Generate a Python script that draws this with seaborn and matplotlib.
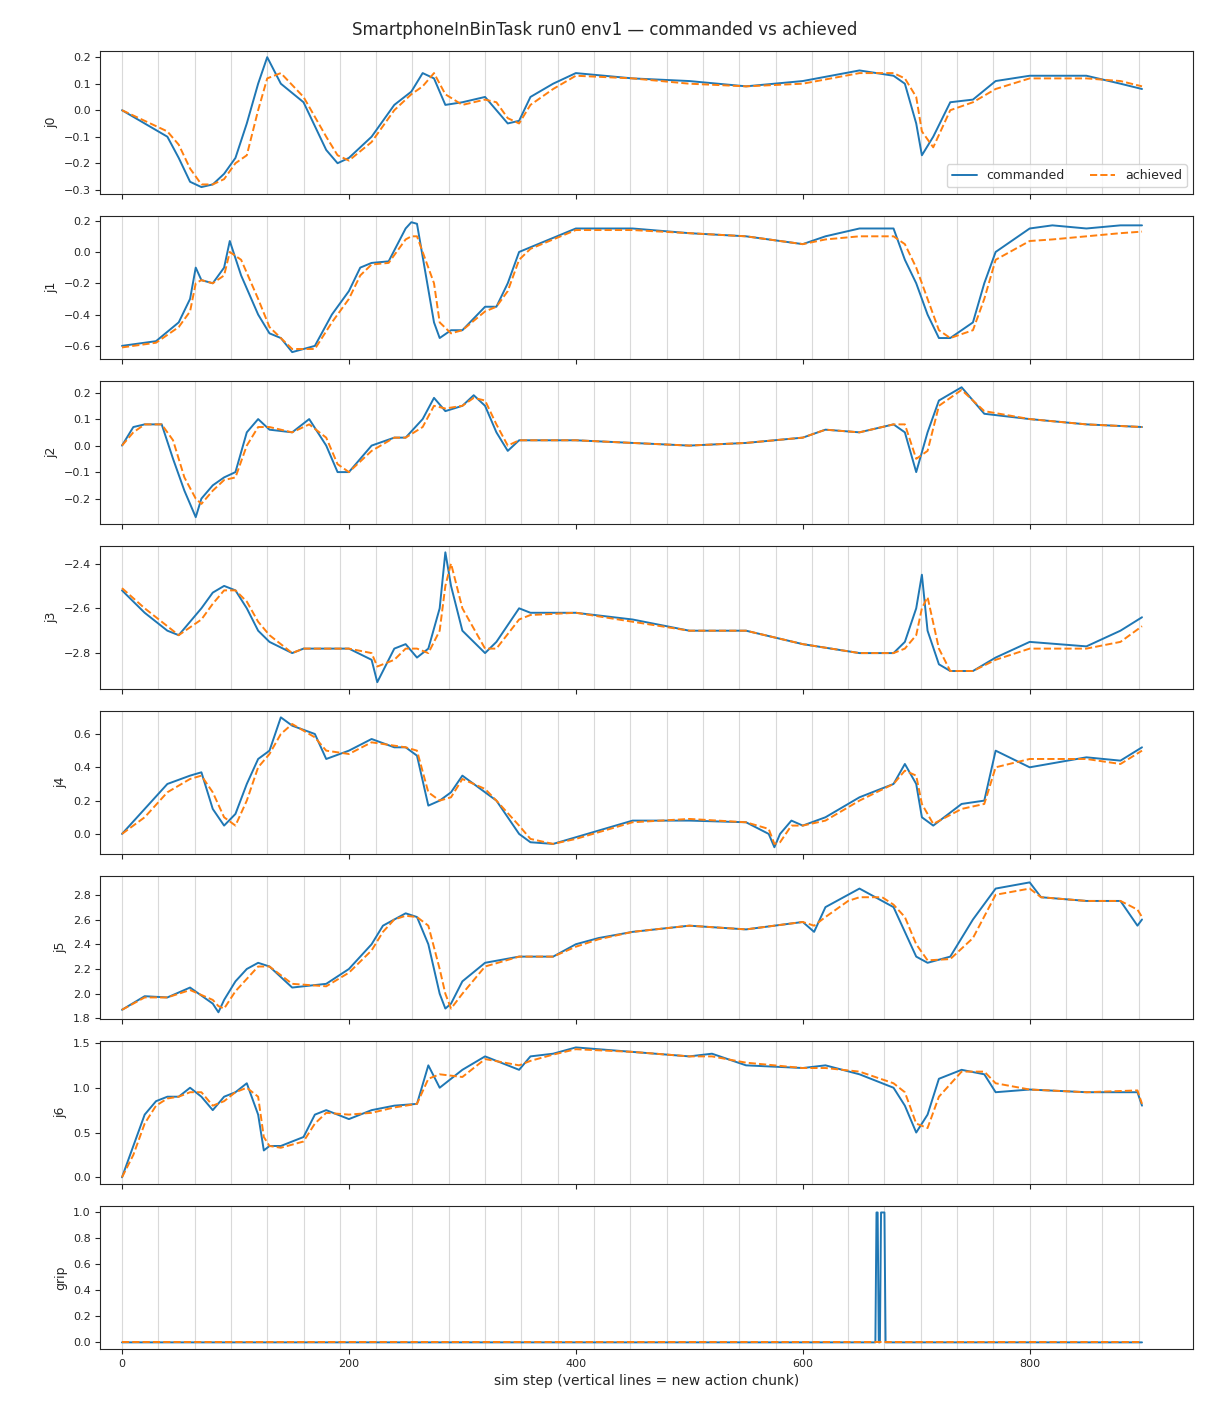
import numpy as np
import pandas as pd
import seaborn as sns
import matplotlib
matplotlib.use("Agg")
import matplotlib.pyplot as plt

# --- data (step, value) ---
j0_x = [0,20,40,50,60,70,80,90,100,110,120,128,140,160,180,190,200,220,240,255,265,275,285,300,320,330,340,350,360,380,400,450,500,550,600,650,680,690,700,705,715,730,750,770,800,850,880,899]
j0_cmd = [0,-0.05,-0.1,-0.18,-0.27,-0.29,-0.28,-0.24,-0.18,-0.05,0.1,0.2,0.1,0.03,-0.15,-0.2,-0.18,-0.1,0.02,0.07,0.14,0.12,0.02,0.03,0.05,0.0,-0.05,-0.04,0.05,0.1,0.14,0.12,0.11,0.09,0.11,0.15,0.13,0.1,-0.05,-0.17,-0.1,0.03,0.04,0.11,0.13,0.13,0.1,0.08]
j0_ach = [0,-0.04,-0.08,-0.13,-0.22,-0.28,-0.28,-0.26,-0.2,-0.17,0.0,0.12,0.14,0.05,-0.1,-0.17,-0.19,-0.12,0.0,0.06,0.09,0.14,0.06,0.02,0.04,0.03,-0.03,-0.05,0.02,0.08,0.13,0.12,0.1,0.09,0.1,0.14,0.14,0.12,0.05,-0.08,-0.14,0.0,0.03,0.08,0.12,0.12,0.11,0.09]

j1_x = [0,30,50,60,65,70,80,90,95,105,120,130,140,150,170,185,200,210,220,235,250,255,260,275,280,290,300,320,330,340,350,360,400,450,500,550,600,620,650,680,690,700,710,720,730,750,760,770,800,820,850,880,899]
j1_cmd = [-0.6,-0.57,-0.45,-0.3,-0.1,-0.18,-0.2,-0.1,0.07,-0.15,-0.4,-0.52,-0.55,-0.64,-0.6,-0.4,-0.25,-0.1,-0.07,-0.06,0.15,0.19,0.18,-0.45,-0.55,-0.5,-0.5,-0.35,-0.35,-0.2,0.0,0.03,0.15,0.15,0.12,0.1,0.05,0.1,0.15,0.15,-0.05,-0.2,-0.4,-0.55,-0.55,-0.45,-0.2,0.0,0.15,0.17,0.15,0.17,0.17]
j1_ach = [-0.61,-0.58,-0.48,-0.38,-0.2,-0.18,-0.2,-0.15,0.0,-0.05,-0.3,-0.48,-0.55,-0.62,-0.62,-0.45,-0.3,-0.15,-0.08,-0.07,0.08,0.1,0.1,-0.2,-0.45,-0.52,-0.5,-0.38,-0.35,-0.25,-0.05,0.02,0.14,0.14,0.12,0.1,0.05,0.08,0.1,0.1,0.05,-0.1,-0.3,-0.5,-0.55,-0.5,-0.3,-0.05,0.07,0.08,0.1,0.12,0.13]

j2_x = [0,10,20,35,45,55,65,70,80,90,100,110,120,130,150,165,180,190,200,220,240,250,265,275,285,300,310,320,330,340,350,400,450,500,550,600,620,650,680,690,700,710,720,740,760,800,850,899]
j2_cmd = [0,0.07,0.08,0.08,-0.05,-0.17,-0.27,-0.2,-0.15,-0.12,-0.1,0.05,0.1,0.06,0.05,0.1,0.0,-0.1,-0.1,0.0,0.03,0.03,0.1,0.18,0.13,0.15,0.19,0.15,0.05,-0.02,0.02,0.02,0.01,0.0,0.01,0.03,0.06,0.05,0.08,0.05,-0.1,0.05,0.17,0.22,0.12,0.1,0.08,0.07]
j2_ach = [0,0.05,0.08,0.08,0.02,-0.12,-0.2,-0.22,-0.17,-0.13,-0.12,0.0,0.07,0.07,0.05,0.08,0.03,-0.07,-0.1,-0.02,0.03,0.03,0.07,0.15,0.14,0.15,0.18,0.17,0.08,0.0,0.02,0.02,0.01,0.0,0.01,0.03,0.06,0.05,0.08,0.08,-0.05,-0.02,0.15,0.21,0.13,0.1,0.08,0.07]

j3_x = [0,20,40,50,70,80,90,100,110,120,130,150,160,180,200,220,225,240,250,260,270,280,285,290,300,320,330,350,360,400,450,500,550,600,650,680,690,700,705,710,720,730,750,770,800,850,880,899]
j3_cmd = [-2.52,-2.62,-2.7,-2.72,-2.6,-2.53,-2.5,-2.52,-2.6,-2.7,-2.75,-2.8,-2.78,-2.78,-2.78,-2.83,-2.93,-2.78,-2.76,-2.82,-2.78,-2.6,-2.35,-2.5,-2.7,-2.8,-2.75,-2.6,-2.62,-2.62,-2.65,-2.7,-2.7,-2.76,-2.8,-2.8,-2.75,-2.6,-2.45,-2.7,-2.85,-2.88,-2.88,-2.82,-2.75,-2.77,-2.7,-2.64]
j3_ach = [-2.51,-2.6,-2.68,-2.72,-2.65,-2.58,-2.52,-2.52,-2.57,-2.66,-2.72,-2.8,-2.78,-2.78,-2.78,-2.8,-2.86,-2.83,-2.78,-2.78,-2.8,-2.7,-2.5,-2.4,-2.6,-2.78,-2.78,-2.65,-2.63,-2.62,-2.66,-2.7,-2.7,-2.76,-2.8,-2.8,-2.78,-2.72,-2.6,-2.55,-2.78,-2.88,-2.88,-2.83,-2.78,-2.78,-2.75,-2.68]

j4_x = [0,20,40,60,70,80,90,100,110,120,130,140,150,170,180,200,220,240,250,260,270,280,290,300,320,330,350,360,380,400,450,500,550,570,575,580,590,600,620,650,680,690,700,705,715,740,760,770,800,850,880,899]
j4_cmd = [0,0.15,0.3,0.35,0.37,0.15,0.05,0.12,0.3,0.45,0.5,0.7,0.65,0.6,0.45,0.5,0.57,0.52,0.52,0.47,0.17,0.2,0.25,0.35,0.25,0.2,0.0,-0.05,-0.06,-0.02,0.08,0.08,0.07,0.0,-0.08,0.0,0.08,0.05,0.1,0.22,0.3,0.42,0.3,0.1,0.05,0.18,0.2,0.5,0.4,0.46,0.44,0.52]
j4_ach = [0,0.1,0.25,0.33,0.35,0.25,0.1,0.05,0.2,0.4,0.48,0.6,0.66,0.58,0.5,0.48,0.55,0.53,0.52,0.5,0.25,0.2,0.22,0.33,0.27,0.2,0.05,-0.03,-0.06,-0.03,0.07,0.09,0.07,0.03,-0.06,-0.05,0.05,0.05,0.08,0.2,0.3,0.38,0.35,0.18,0.06,0.15,0.18,0.4,0.45,0.45,0.42,0.5]

j5_x = [0,20,40,60,80,85,90,100,110,120,130,150,180,200,220,230,240,250,260,270,280,285,290,300,320,350,380,400,420,450,500,550,600,610,620,640,650,670,680,690,700,710,730,750,770,800,810,850,880,895,899]
j5_cmd = [1.87,1.98,1.97,2.05,1.92,1.85,1.95,2.1,2.2,2.25,2.22,2.05,2.08,2.2,2.4,2.55,2.6,2.65,2.62,2.4,2.0,1.88,1.92,2.1,2.25,2.3,2.3,2.4,2.45,2.5,2.55,2.52,2.58,2.5,2.7,2.8,2.85,2.75,2.7,2.5,2.3,2.25,2.3,2.6,2.85,2.9,2.78,2.75,2.75,2.55,2.6]
j5_ach = [1.87,1.97,1.97,2.03,1.95,1.9,1.88,2.02,2.12,2.22,2.22,2.08,2.06,2.17,2.35,2.5,2.6,2.63,2.62,2.55,2.2,2.0,1.88,2.0,2.22,2.3,2.3,2.38,2.44,2.5,2.55,2.52,2.58,2.55,2.62,2.75,2.78,2.78,2.72,2.62,2.4,2.27,2.28,2.45,2.8,2.85,2.78,2.75,2.75,2.68,2.62]

j6_x = [0,10,20,30,40,50,60,70,80,90,100,110,120,125,130,140,160,170,180,200,220,240,260,270,280,300,320,350,360,380,400,450,500,520,550,600,620,650,680,690,700,710,720,740,760,770,800,850,895,899]
j6_cmd = [0,0.35,0.7,0.85,0.9,0.9,1.0,0.9,0.75,0.9,0.95,1.05,0.7,0.3,0.35,0.35,0.45,0.7,0.75,0.65,0.75,0.8,0.82,1.25,1.0,1.2,1.35,1.2,1.35,1.38,1.45,1.4,1.35,1.38,1.25,1.22,1.25,1.15,1.0,0.8,0.5,0.7,1.1,1.2,1.15,0.95,0.98,0.95,0.95,0.8]
j6_ach = [0,0.25,0.6,0.8,0.88,0.9,0.95,0.95,0.8,0.85,0.95,1.0,0.9,0.45,0.35,0.33,0.4,0.6,0.72,0.7,0.72,0.78,0.82,1.1,1.15,1.12,1.32,1.25,1.3,1.37,1.43,1.4,1.35,1.35,1.28,1.22,1.22,1.18,1.05,0.95,0.6,0.55,0.9,1.18,1.18,1.05,0.98,0.95,0.97,0.82]

grip_x = [0,664,665,666,667,668,669,672,673,899]
grip_cmd = [0,0,1,1,0,0,1,1,0,0]
grip_ach = [0,0,0,0,0,0,0,0,0,0]

CHUNK = 32
N_STEPS = 900

panels = [
    ("j0", j0_x, j0_cmd, j0_ach),
    ("j1", j1_x, j1_cmd, j1_ach),
    ("j2", j2_x, j2_cmd, j2_ach),
    ("j3", j3_x, j3_cmd, j3_ach),
    ("j4", j4_x, j4_cmd, j4_ach),
    ("j5", j5_x, j5_cmd, j5_ach),
    ("j6", j6_x, j6_cmd, j6_ach),
    ("grip", grip_x, grip_cmd, grip_ach),
]

sns.set_style("ticks")
fig, axes = plt.subplots(len(panels), 1, figsize=(12.1, 14.08), dpi=100, sharex=True)
fig.subplots_adjust(left=0.083, right=0.986, top=0.964, bottom=0.042, hspace=0.155)

for ax, (name, xs, cmd, ach) in zip(axes, panels):
    for s in range(0, N_STEPS, CHUNK):
        ax.axvline(s, color="0.85", lw=0.8, zorder=0)
    df = pd.DataFrame({"step": xs, "commanded": cmd, "achieved": ach})
    sns.lineplot(data=df, x="step", y="commanded", ax=ax, color="#1f77b4", lw=1.4,
                 estimator=None, sort=False, label="commanded")
    sns.lineplot(data=df, x="step", y="achieved", ax=ax, color="#ff7f0e", lw=1.4,
                 ls="--", estimator=None, sort=False, label="achieved")
    ax.set_ylabel(name, fontsize=9)
    ax.set_xlabel("")
    ax.tick_params(labelsize=8)
    if name == "j0":
        ax.legend(loc="lower right", ncol=2, fontsize=9)
    else:
        ax.get_legend().remove()

axes[0].set_xlim(-19, 944)
axes[-1].set_xlabel("sim step (vertical lines = new action chunk)", fontsize=10)
fig.suptitle("SmartphoneInBinTask run0 env1 \u2014 commanded vs achieved", fontsize=12, y=0.985)
fig.savefig("out.png", dpi=100)
